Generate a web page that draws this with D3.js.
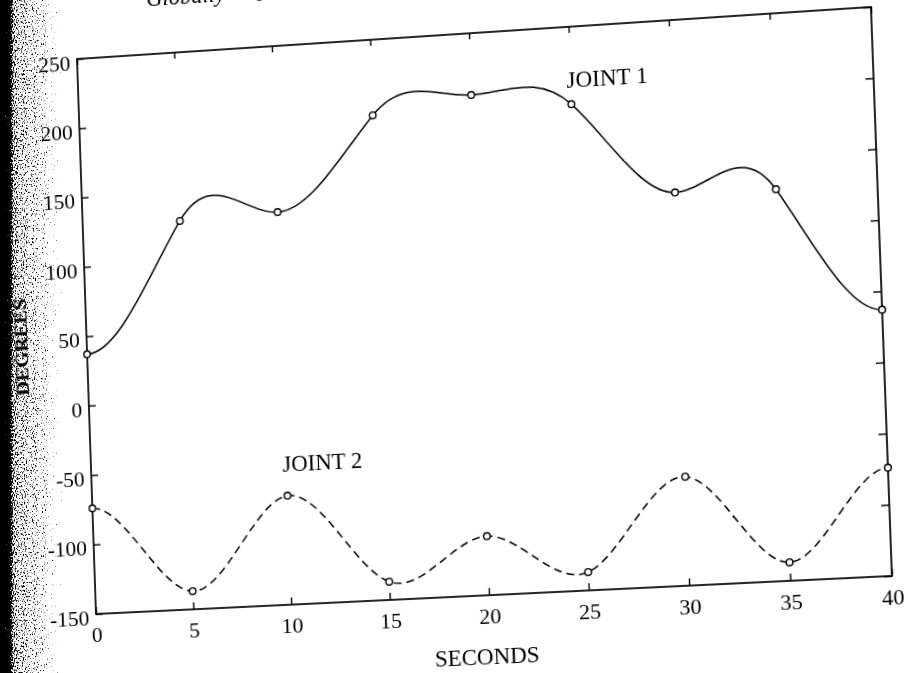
<!DOCTYPE html>
<meta charset="utf-8">
<title>Joint trajectories</title>
<body style="margin:0;background:#fff">
<script src="https://d3js.org/d3.v7.min.js"></script>

<div id="page" style="position:relative;width:908px;height:673px;overflow:hidden;background:#fff"></div>

<script>

// via points (degrees at each 5 s mark)
var seconds = [0, 5, 10, 15, 20, 25, 30, 35, 40];
var joint1 = [37, 129, 131, 196, 206, 195, 128, 126, 37];
var joint2 = [-74, -137, -72, -137, -108, -137, -73, -137, -74];
// slopes of the curves through each via point (deg/s)
var joint1Rate = [0, 22, 0, 16, 0, -14, 0, -22, 0];
var joint2Rate = [0, -1, 1.5, -5.8, 0, 5.6, -1.5, 0.2, 0];

var xTicks = [0, 5, 10, 15, 20, 25, 30, 35, 40];
var yTicks = [-150, -100, -50, 0, 50, 100, 150, 200, 250];

var W = 796, H = 555, M = 120;
// where the plot box corners sit on the (tilted) scanned page
var corners = [[77, 59], [871, 7], [892, 576], [96, 614]];

var page = d3.select("#page");

// dark scanner edge on the left
var edge = page.append("svg")
    .attr("width", 908).attr("height", 673)
    .style("position", "absolute").style("left", 0).style("top", 0);
var defs = edge.append("defs");
var lg = defs.append("linearGradient").attr("id", "edgeGrad");
[[0, 1], [0.14, 0.92], [0.22, 0.52], [0.4, 0.47], [0.7, 0.4], [1, 0.22]].forEach(function(s) {
  lg.append("stop").attr("offset", s[0]).attr("stop-color", "#000").attr("stop-opacity", s[1]);
});
var f = defs.append("filter").attr("id", "grain").attr("x", 0).attr("y", 0).attr("width", 1).attr("height", 1);
f.append("feTurbulence").attr("type", "fractalNoise").attr("baseFrequency", "0.9 0.5")
  .attr("numOctaves", 2).attr("seed", 7).attr("result", "n");
f.append("feColorMatrix").attr("in", "n").attr("type", "matrix")
  .attr("values", "0 0 0 0 0  0 0 0 0 0  0 0 0 0 0  1 0 0 0 0").attr("result", "na");
f.append("feComposite").attr("in", "SourceGraphic").attr("in2", "na").attr("operator", "arithmetic")
  .attr("k1", 0).attr("k2", 1).attr("k3", 1).attr("k4", -1).attr("result", "c");
var ct = f.append("feComponentTransfer").attr("in", "c");
ct.append("feFuncA").attr("type", "linear").attr("slope", 6);
edge.append("rect").attr("x", 0).attr("y", 0).attr("width", 62).attr("height", 673)
  .attr("fill", "url(#edgeGrad)").attr("filter", "url(#grain)");

// homography: plot rectangle (0..W, 0..H) -> page quad
function quadMatrix(p) {
  var x0 = p[0][0], y0 = p[0][1], x1 = p[1][0], y1 = p[1][1],
      x2 = p[2][0], y2 = p[2][1], x3 = p[3][0], y3 = p[3][1];
  var sx = x0 - x1 + x2 - x3, sy = y0 - y1 + y2 - y3;
  var dx1 = x1 - x2, dx2 = x3 - x2, dy1 = y1 - y2, dy2 = y3 - y2;
  var den = dx1 * dy2 - dx2 * dy1;
  var g = (sx * dy2 - dx2 * sy) / den, h = (dx1 * sy - sx * dy1) / den;
  var a = x1 - x0 + g * x1, b = x3 - x0 + h * x3, c = x0;
  var d = y1 - y0 + g * y1, e = y3 - y0 + h * y3, ff = y0;
  return "matrix3d(" + [a / W, d / W, 0, g / W, b / H, e / H, 0, h / H, 0, 0, 1, 0, c, ff, 0, 1].join(",") + ")";
}

var holder = page.append("div")
    .style("position", "absolute").style("left", 0).style("top", 0)
    .style("width", W + "px").style("height", H + "px")
    .style("transform-origin", "0 0")
    .style("transform", quadMatrix(corners));

var svg = holder.append("svg")
    .attr("width", W + 2 * M).attr("height", H + 2 * M)
    .style("position", "absolute").style("left", -M + "px").style("top", -M + "px")
  .append("g")
    .attr("transform", "translate(" + M + "," + M + ")")
    .attr("font-family", "'Liberation Serif', 'Times New Roman', serif");

var x = d3.scaleLinear().domain([0, 40]).range([0, W]);
var y = d3.scaleLinear().domain([-150, 250]).range([H, 0]);

function styleAxis(sel) {
  sel.select(".domain").remove();
  sel.attr("font-family", null).attr("font-size", 22);
  sel.selectAll(".tick line").attr("stroke", "#000").attr("stroke-width", 1.4);
  sel.selectAll(".tick text").attr("fill", "#000");
}

svg.append("g")
    .attr("transform", "translate(0," + H + ")")
    .call(d3.axisBottom(x).tickValues(xTicks).tickSizeInner(-7).tickSizeOuter(0)
      .tickPadding(12).tickFormat(function(d) { return String(d); }))
    .call(styleAxis);

svg.append("g")
    .call(d3.axisLeft(y).tickValues(yTicks).tickSizeInner(-7).tickSizeOuter(0)
      .tickPadding(7).tickFormat(function(d) { return String(d); }))
    .call(styleAxis)
    .selectAll(".tick text").attr("dy", "0.46em");

svg.append("g")
    .call(d3.axisTop(x).tickValues(xTicks).tickSizeInner(-6).tickSizeOuter(0).tickFormat(""))
    .call(styleAxis);

svg.append("g")
    .attr("transform", "translate(" + W + ",0)")
    .call(d3.axisRight(y).tickValues(yTicks).tickSizeInner(-8).tickSizeOuter(0).tickFormat(""))
    .call(styleAxis);

svg.append("rect")
    .attr("width", W).attr("height", H)
    .attr("fill", "none").attr("stroke", "#000").attr("stroke-width", 1.7);

// cubic segments between via points, using the slope at each point
function trajectory(ts, vs, ms) {
  var p = d3.path();
  p.moveTo(x(ts[0]), y(vs[0]));
  for (var i = 0; i < ts.length - 1; i++) {
    var h = ts[i + 1] - ts[i];
    p.bezierCurveTo(
      x(ts[i] + h / 3), y(vs[i] + ms[i] * h / 3),
      x(ts[i + 1] - h / 3), y(vs[i + 1] - ms[i + 1] * h / 3),
      x(ts[i + 1]), y(vs[i + 1]));
  }
  return p.toString();
}

svg.append("path")
    .attr("d", trajectory(seconds, joint1, joint1Rate))
    .attr("fill", "none").attr("stroke", "#000").attr("stroke-width", 1.5);

svg.append("path")
    .attr("d", trajectory(seconds, joint2, joint2Rate))
    .attr("fill", "none").attr("stroke", "#000").attr("stroke-width", 1.5)
    .attr("stroke-dasharray", "8,5");

[joint1, joint2].forEach(function(vals) {
  svg.append("g")
    .selectAll("circle")
    .data(seconds)
    .enter()
    .append("circle")
      .attr("cx", function(d) { return x(d); })
      .attr("cy", function(d, i) { return y(vals[i]); })
      .attr("r", 3.3)
      .attr("fill", "#fff").attr("stroke", "#000").attr("stroke-width", 1.4);
});

svg.append("text").attr("x", x(24.8)).attr("y", y(206.5))
    .attr("font-size", 23).text("JOINT 1");
svg.append("text").attr("x", x(9.8)).attr("y", y(-55))
    .attr("font-size", 23).text("JOINT 2");

svg.append("text").attr("x", x(19.8)).attr("y", H + 68)
    .attr("text-anchor", "middle").attr("font-size", 23).text("SECONDS");

svg.append("text")
    .attr("transform", "translate(-61," + y(44.6) + ") rotate(-90)")
    .attr("text-anchor", "middle").attr("font-size", 19).attr("font-weight", "bold")
    .attr("fill", "#000")
    .attr("textLength", 97).attr("lengthAdjust", "spacingAndGlyphs")
    .text("DEGREES");

// running text of the page above the figure, cut off by the scan
svg.append("text").attr("x", 73).attr("y", -48)
    .attr("font-size", 23).attr("font-style", "italic").text("Globally");
svg.append("text").attr("x", 187).attr("y", -51)
    .attr("font-size", 23).attr("font-style", "italic").text("p");

</script>
